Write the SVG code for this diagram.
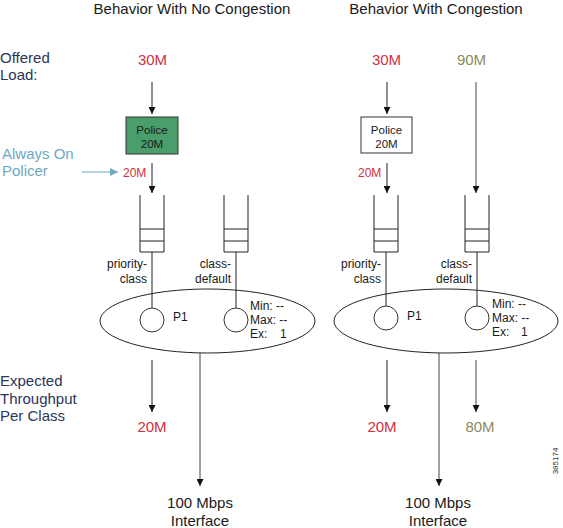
<svg xmlns="http://www.w3.org/2000/svg" width="563" height="528" viewBox="0 0 563 528">
<defs>
<marker id="ah" viewBox="0 0 10 10" refX="10" refY="5" markerWidth="7" markerHeight="7" markerUnits="userSpaceOnUse" orient="auto">
<path d="M0,0 L10,5 L0,10 z" fill="#111"/>
</marker>
<marker id="ahb" viewBox="0 0 10 10" refX="10" refY="5" markerWidth="8" markerHeight="8" markerUnits="userSpaceOnUse" orient="auto">
<path d="M0,0 L10,5 L0,10 z" fill="#6fa8c4"/>
</marker>
<style>
text{font-family:"Liberation Sans",Arial,sans-serif;}
.t{font-size:15px;fill:#1a1a1a;}
.lab{font-size:15px;fill:#2b3558;}
.red{font-size:15px;fill:#d2303e;}
.ol{font-size:15px;fill:#8c8a5e;}
.sred{font-size:12px;fill:#d2303e;}
.s{font-size:12px;fill:#1a1a1a;}
.p{font-size:11.5px;fill:#1a1a1a;}
.blue{font-size:15px;fill:#6fa8c4;}
.c{text-anchor:middle;}
.e{text-anchor:end;}
.ln{stroke:#222;stroke-width:1;fill:none;}
.ar{stroke:#222;stroke-width:1;fill:none;marker-end:url(#ah);}
.sh{stroke:#333;stroke-width:1;fill:#fff;}
</style>
</defs>
<g id="titles">
<text class="t c" x="192" y="14">Behavior With No Congestion</text>
<text class="t c" x="436" y="14">Behavior With Congestion</text>
</g>
<g id="row-labels">
<text class="lab" x="0" y="63">Offered</text>
<text class="lab" x="0" y="80">Load:</text>
<text class="blue" x="2" y="159">Always On</text>
<text class="blue" x="2" y="176">Policer</text>
<text class="lab" x="0" y="386">Expected</text>
<text class="lab" x="0" y="403.5">Throughput</text>
<text class="lab" x="0" y="421">Per Class</text>
</g>
<g id="connectors">
<line class="ar" x1="152" y1="82" x2="152" y2="114"/>
<line class="ar" x1="152" y1="163" x2="152" y2="193"/>
<line x1="82" y1="172" x2="118" y2="172" stroke="#6fa8c4" stroke-width="1" marker-end="url(#ahb)"/>
<line class="ar" x1="387" y1="82" x2="387" y2="114"/>
<line class="ar" x1="387" y1="163" x2="387" y2="193"/>
<line class="ar" x1="476" y1="82" x2="476" y2="193" style="stroke:#444"/>
<line class="ln" x1="152" y1="252" x2="152" y2="308"/>
<line class="ln" x1="236" y1="252" x2="236" y2="308"/>
<line class="ln" x1="386" y1="252" x2="386" y2="306"/>
<line class="ln" x1="477" y1="252" x2="477" y2="306"/>
<line class="ar" x1="152" y1="360" x2="152" y2="412"/>
<line class="ar" x1="200" y1="353" x2="200" y2="486" style="stroke:#444"/>
<line class="ar" x1="387" y1="360" x2="387" y2="412"/>
<line class="ar" x1="476" y1="360" x2="476" y2="412" style="stroke:#444"/>
<line class="ar" x1="439" y1="353" x2="439" y2="486" style="stroke:#444"/>
</g>
<g id="load-left">
<text class="red c" x="152.5" y="65">30M</text>
</g>
<g id="load-right">
<text class="red c" x="386.5" y="65">30M</text>
<text class="ol c" x="471.5" y="65">90M</text>
</g>
<g id="police-left">
<rect x="126" y="117" width="52" height="37" fill="#4a9e6b" stroke="#333" stroke-width="1"/>
<text class="p c" x="152" y="134">Police</text>
<text class="p c" x="152" y="148">20M</text>
<text class="sred" x="123" y="177">20M</text>
</g>
<g id="police-right">
<rect x="361" y="117" width="51" height="36" fill="#fff" stroke="#333" stroke-width="1"/>
<text class="p c" x="386.5" y="134">Police</text>
<text class="p c" x="386.5" y="148">20M</text>
<text class="sred" x="358" y="177">20M</text>
</g>
<g id="queue-priority-left">
<path class="ln" d="M140,195 V252 H164 V195 M140,229 H164 M140,241 H164"/>
<text class="s e" x="147" y="268">priority-</text>
<text class="s e" x="147" y="283">class</text>
</g>
<g id="queue-default-left">
<path class="ln" d="M224,195 V252 H248 V195 M224,229 H248 M224,241 H248"/>
<text class="s e" x="231" y="268">class-</text>
<text class="s e" x="231" y="283">default</text>
</g>
<g id="queue-priority-right">
<path class="ln" d="M374,195 V252 H398 V195 M374,229 H398 M374,241 H398"/>
<text class="s e" x="381" y="268">priority-</text>
<text class="s e" x="381" y="283">class</text>
</g>
<g id="queue-default-right">
<path class="ln" d="M465,195 V252 H489 V195 M465,229 H489 M465,241 H489"/>
<text class="s e" x="472" y="268">class-</text>
<text class="s e" x="472" y="283">default</text>
</g>
<g id="scheduler-left">
<ellipse class="ln" cx="207.5" cy="321" rx="107.5" ry="32"/>
<circle class="sh" cx="152" cy="320" r="12"/>
<circle class="sh" cx="236" cy="320" r="12"/>
<text class="s" x="173" y="321">P1</text>
<text class="s" x="250" y="310">Min: --</text>
<text class="s" x="250" y="324">Max: --</text>
<text class="s" x="250" y="338">Ex:<tspan x="280">1</tspan></text>
</g>
<g id="scheduler-right">
<ellipse class="ln" cx="446" cy="321" rx="112" ry="32"/>
<circle class="sh" cx="386" cy="318" r="12"/>
<circle class="sh" cx="477" cy="318" r="12"/>
<text class="s" x="407" y="320">P1</text>
<text class="s" x="492" y="308">Min: --</text>
<text class="s" x="492" y="322">Max: --</text>
<text class="s" x="492" y="336">Ex:<tspan x="521">1</tspan></text>
</g>
<g id="throughput-left">
<text class="red c" x="152" y="432">20M</text>
</g>
<g id="throughput-right">
<text class="red c" x="382" y="432">20M</text>
<text class="ol c" x="480" y="432">80M</text>
</g>
<g id="interface-left">
<text class="t c" x="200" y="508">100 Mbps</text>
<text class="t c" x="200" y="526">Interface</text>
</g>
<g id="interface-right">
<text class="t c" x="438" y="508">100 Mbps</text>
<text class="t c" x="438" y="526">Interface</text>
</g>
<text x="558" y="461" font-size="8" fill="#333" text-anchor="middle" transform="rotate(-90 558 461)">385174</text>
</svg>
